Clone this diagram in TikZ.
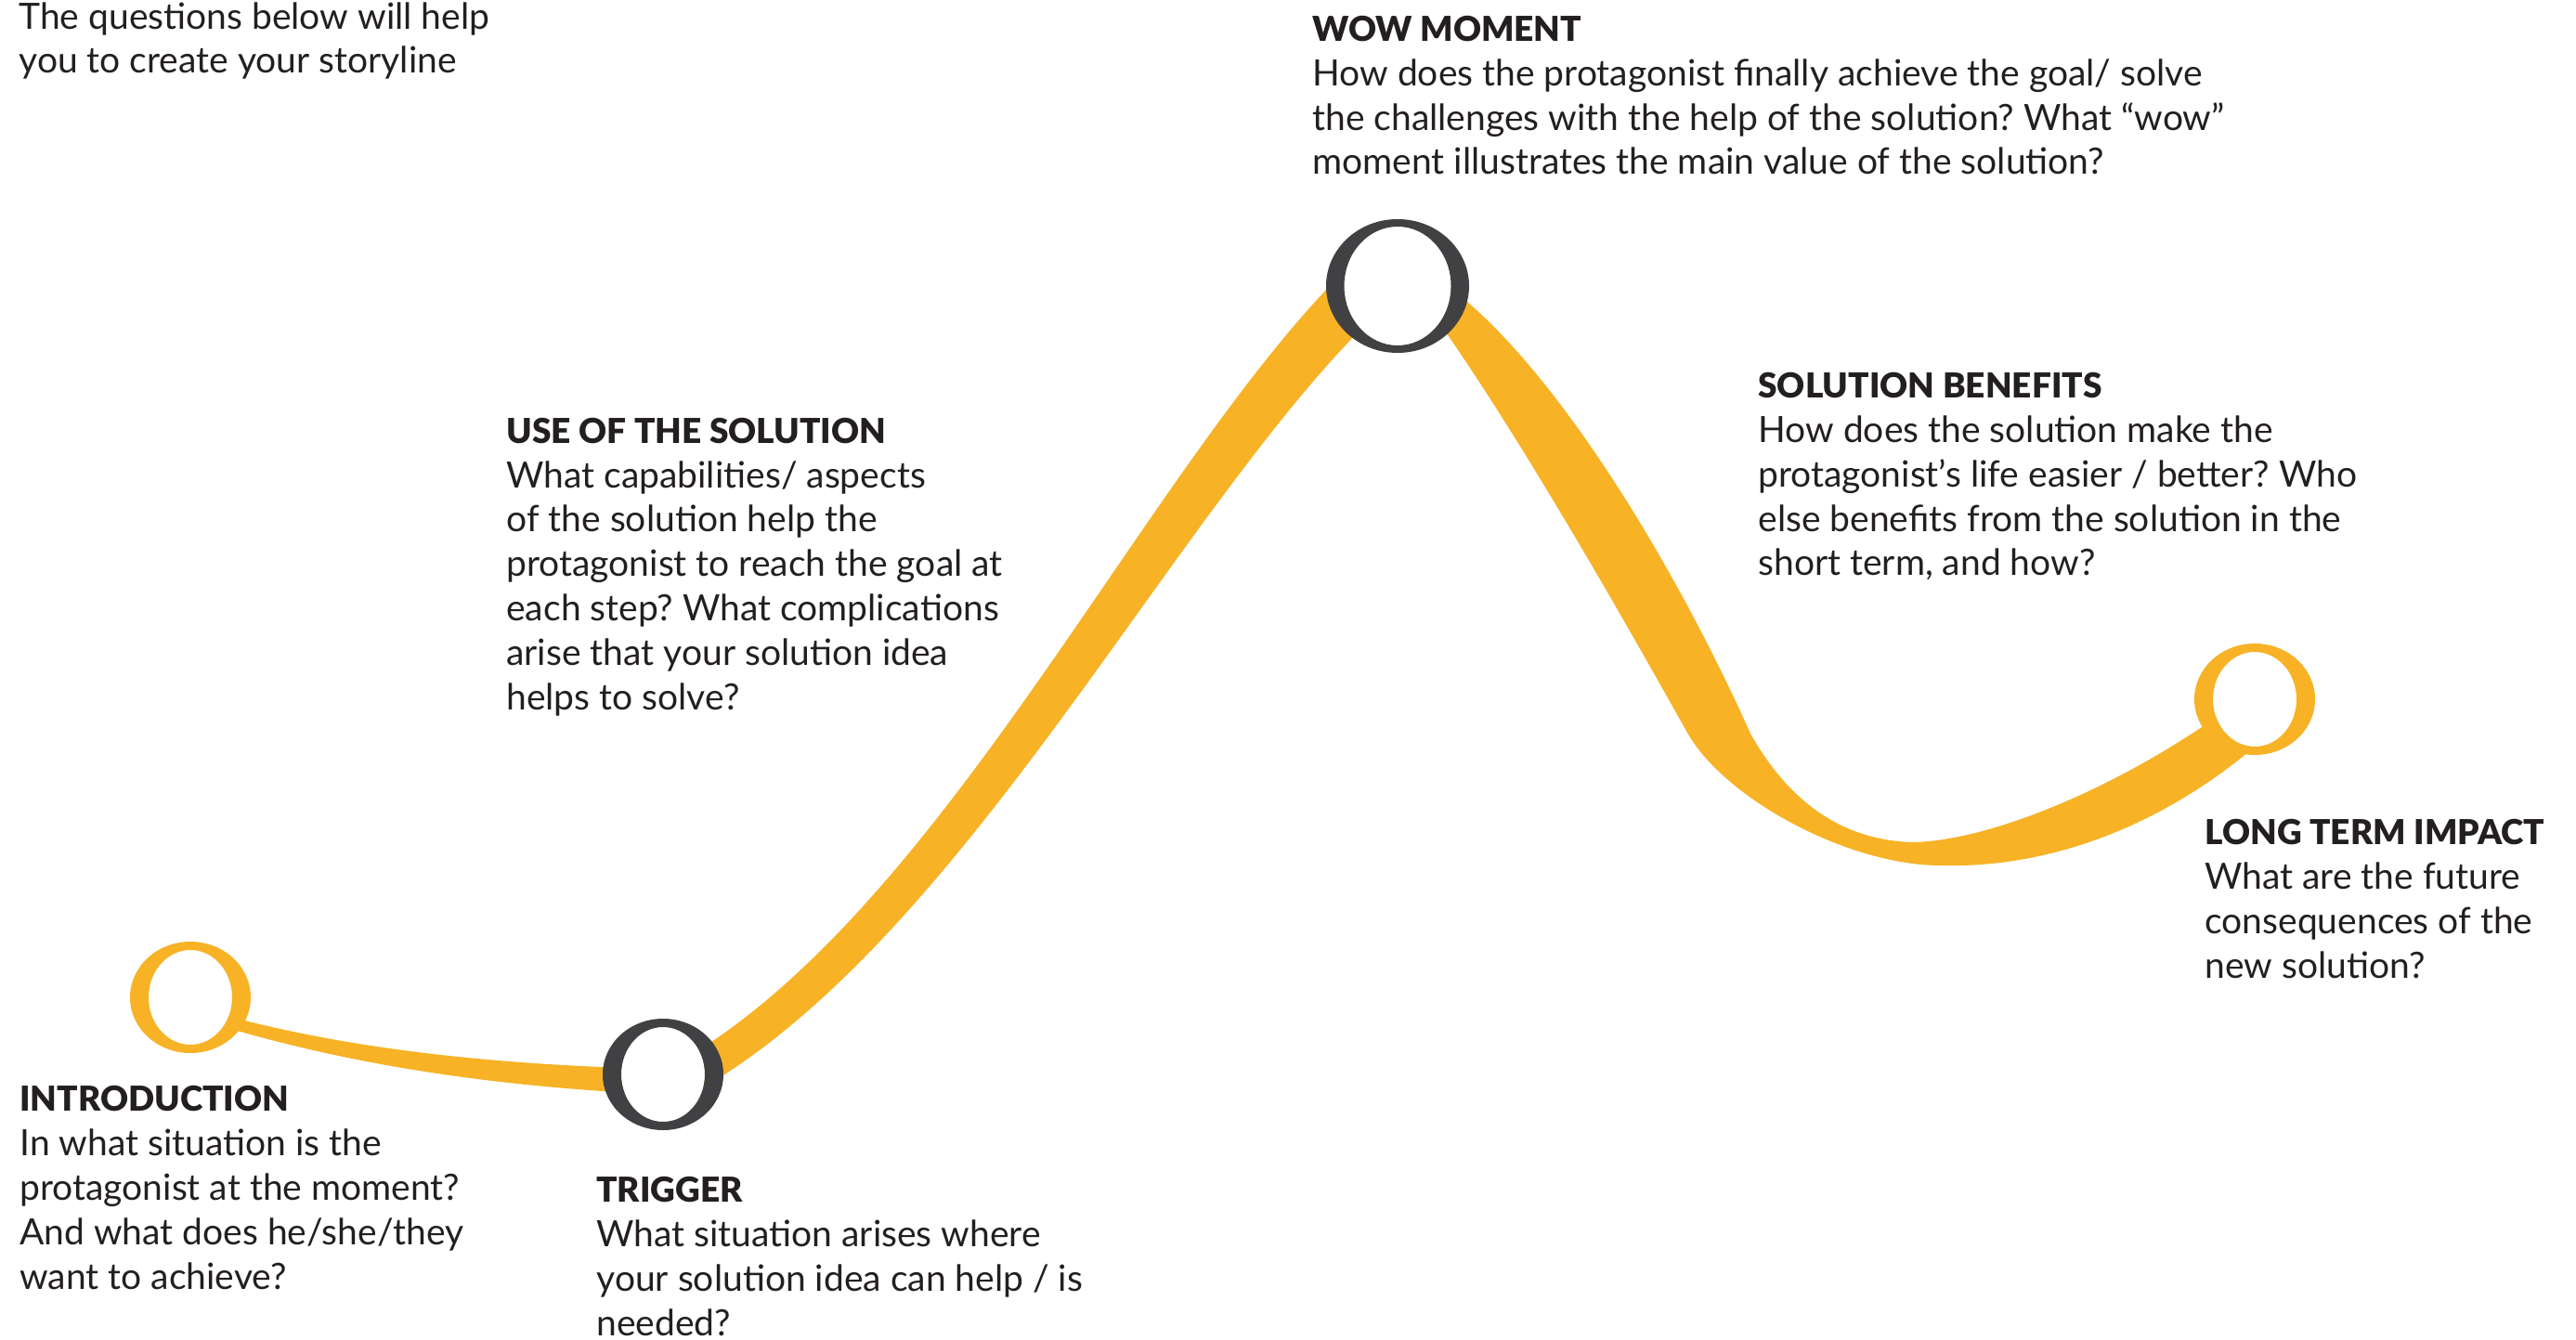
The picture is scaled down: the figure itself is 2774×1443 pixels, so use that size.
\documentclass[tikz,border=0pt]{standalone}
\usepackage{fontspec}
\setmainfont{Lato}
\newfontfamily\hdfont{Lato Black}
\definecolor{ribbon}{HTML}{F7B226}
\definecolor{ringgray}{HTML}{414042}
\definecolor{ink}{HTML}{231F20}
\newcommand\hd[1]{{\fontsize{18.5pt}{23.9pt}\selectfont\hdfont #1}}
\begin{document}
\frenchspacing
\begin{tikzpicture}[x=0.5pt,y=-0.5pt,
  txt/.style={anchor=base west, inner sep=0pt, align=left, text=ink,
    font=\fontsize{19.5pt}{23.9pt}\selectfont},
  band/.style={fill=ribbon},
  hole/.style={fill=white},
]
\useasboundingbox (0,0) rectangle (2774,1443);

% circle centres
\coordinate (cintro) at (205,1074);
\coordinate (ctrig) at (714,1157);
\coordinate (cwow) at (1505,308);
\coordinate (clong) at (2428,753);

% ribbon: introduction -> trigger
\fill[band] (215,1086) .. controls (350,1125) and (500,1145) .. (700,1151)
  -- (700,1178) .. controls (500,1168) and (350,1140) .. (215,1098) -- cycle;

% ribbon: trigger -> wow
\fill[band] (731,1144) .. controls (1009,984) and (1221,531) .. (1430,310)
  -- (1470,350) .. controls (1259,561) and (1033,1016) .. (749,1176) -- cycle;

% ribbon: wow -> long term
\fill[band] (1540,295) .. controls (1660,370) and (1800,600) .. (1885,790)
  .. controls (1930,870) and (1990,905) .. (2060,907)
  .. controls (2150,905) and (2300,840) .. (2420,748)
  -- (2450,785) .. controls (2330,895) and (2200,935) .. (2090,932)
  .. controls (1990,932) and (1857,860) .. (1817,789)
  .. controls (1767,700) and (1630,455) .. (1530,320) -- cycle;

% rings
\fill[hole] (cintro) ellipse [x radius=22.5pt, y radius=25.5pt];
\fill[ribbon, even odd rule] (cintro) ellipse [x radius=32.5pt, y radius=30pt] (cintro) ellipse [x radius=22.5pt, y radius=25.5pt];
\fill[hole] (ctrig) ellipse [x radius=22.5pt, y radius=25.5pt];
\fill[ringgray, even odd rule] (ctrig) ellipse [x radius=32.5pt, y radius=30pt] (ctrig) ellipse [x radius=22.5pt, y radius=25.5pt];
\fill[hole] (cwow) ellipse [x radius=28.75pt, y radius=32pt];
\fill[ringgray, even odd rule] (cwow) ellipse [x radius=38.5pt, y radius=36pt] (cwow) ellipse [x radius=28.75pt, y radius=32pt];
\fill[hole] (clong) ellipse [x radius=22.5pt, y radius=25.5pt];
\fill[ribbon, even odd rule] (clong) ellipse [x radius=32.5pt, y radius=30pt] (clong) ellipse [x radius=22.5pt, y radius=25.5pt];

% texts (anchored at the baseline of their last line)
\node[txt] (note) at (20,79) {The questions below will help\\you to create your storyline};
\node[txt] (wow) at (1413,188) {\hd{WOW MOMENT}\\How does the protagonist finally achieve the goal/ solve\\the challenges with the help of the solution? What “wow”\\moment illustrates the main value of the solution?};
\node[txt] (use) at (545,764) {\hd{USE OF THE SOLUTION}\\What capabilities/ aspects\\of the solution help the\\protagonist to reach the goal at\\each step? What complications\\arise that your solution idea\\helps to solve?};
\node[txt] (benefit) at (1893,620) {\hd{SOLUTION BENEFITS}\\How does the solution make the\\protagonist’s life easier / better? Who\\else benefits from the solution in the\\short term, and how?};
\node[txt] (impact) at (2374,1053) {\hd{LONG TERM IMPACT}\\What are the future\\consequences of the\\new solution?};
\node[txt] (intro) at (21,1388) {\hd{INTRODUCTION}\\In what situation is the\\protagonist at the moment?\\And what does he/she/they\\want to achieve?};
\node[txt] (trigger) at (642,1438) {\hd{TRIGGER}\\What situation arises where\\your solution idea can help / is\\needed?};
\end{tikzpicture}
\end{document}
